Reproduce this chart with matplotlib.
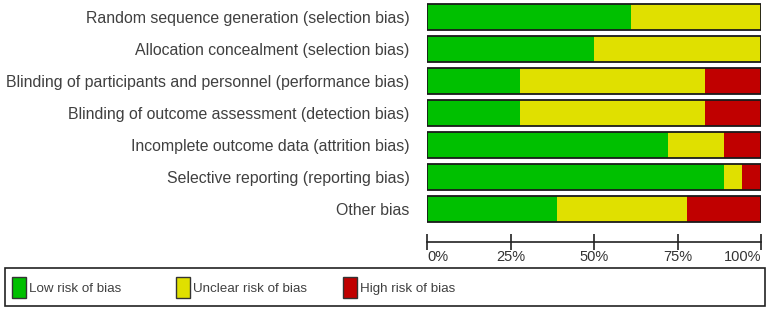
import matplotlib
matplotlib.use("Agg")
import matplotlib.pyplot as plt
from matplotlib.patches import Rectangle
import numpy as np

plt.rcParams['font.family'] = ['Liberation Sans', 'DejaVu Sans']

domains = [
    "Random sequence generation (selection bias)",
    "Allocation concealment (selection bias)",
    "Blinding of participants and personnel (performance bias)",
    "Blinding of outcome assessment (detection bias)",
    "Incomplete outcome data (attrition bias)",
    "Selective reporting (reporting bias)",
    "Other bias",
]
low = [61.1, 50.0, 27.8, 27.8, 72.2, 88.9, 38.9]
unclear = [38.9, 50.0, 55.5, 55.5, 16.7, 5.5, 38.9]
high = [0.0, 0.0, 16.7, 16.7, 11.1, 5.6, 22.2]
tick_values = [0, 25, 50, 75, 100]
tick_labels = ["0%", "25%", "50%", "75%", "100%"]
legend_labels = ["Low risk of bias", "Unclear risk of bias", "High risk of bias"]
colors = ["#00C000", "#E0E000", "#C00000"]

W, H = 767, 314
fig = plt.figure(figsize=(W / 100, H / 100), dpi=100)

# main axes
ax_left, ax_right = 427, 761
ax_top, ax_bot = 0, 242
ax = fig.add_axes([ax_left / W, (H - ax_bot) / H, (ax_right - ax_left) / W, (ax_bot - ax_top) / H])

y = np.arange(len(domains))
bar_h = 0.8
left = np.zeros(len(domains))
for vals, c in zip([low, unclear, high], colors):
    ax.barh(y, vals, left=left, height=bar_h, color=c, edgecolor='none')
    left = left + np.array(vals)
# outline
ax.barh(y, [100] * len(domains), height=bar_h, facecolor='none', edgecolor='#1a1a1a', linewidth=1.3)

ax.set_xlim(0, 100)
ax.set_ylim(len(domains) - 1 + 1.02, -0.53)
for s in ['top', 'left', 'right']:
    ax.spines[s].set_visible(False)
ax.spines['bottom'].set_color('#222222')
ax.spines['bottom'].set_linewidth(1.2)

ax.set_yticks(y)
ax.set_yticklabels(domains, fontsize=11.4, color='#404040')
ax.tick_params(axis='y', length=0, pad=12.5)

ax.set_xticks(tick_values)
ax.set_xticklabels(tick_labels, fontsize=10.5, color='#333333')
ax.tick_params(axis='x', direction='inout', length=12, width=1.2, color='#222222', pad=0)
xl = ax.get_xticklabels()
xl[0].set_horizontalalignment('left')
xl[-1].set_horizontalalignment('right')

# legend box
lx0, lx1, ly0, ly1 = 5, 765, 268, 306
fig.patches.append(Rectangle((lx0 / W, (H - ly1) / H), (lx1 - lx0) / W, (ly1 - ly0) / H,
                             transform=fig.transFigure, facecolor='white', edgecolor='#222222',
                             linewidth=1.2))
sq_x = [12, 176, 343]
for sx, lab, c in zip(sq_x, legend_labels, colors):
    fig.patches.append(Rectangle((sx / W, (H - 298) / H), 14 / W, 21 / H,
                                 transform=fig.transFigure, facecolor=c, edgecolor='#333333',
                                 linewidth=1.0))
    fig.text((sx + 17) / W, (H - 289) / H, lab, fontsize=9.6, color='#404040',
             ha='left', va='center')

fig.savefig("out.png", dpi=100)
